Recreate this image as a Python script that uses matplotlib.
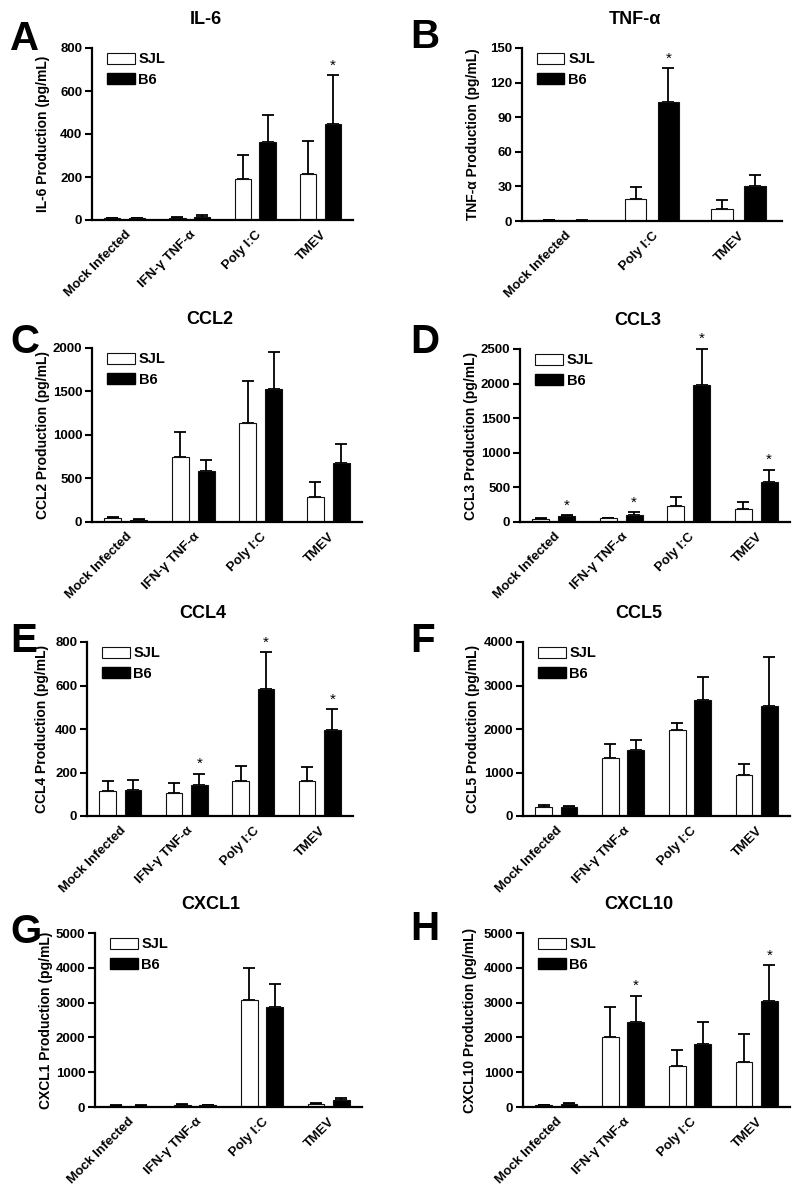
import numpy as np
import matplotlib
matplotlib.use("Agg")
import matplotlib.pyplot as plt
from matplotlib.patches import Patch

plt.rcParams['font.family'] = ['Liberation Sans', 'DejaVu Sans']
plt.rcParams['font.weight'] = 'bold'

groups4 = ['Mock Infected', 'IFN-γ TNF-α', 'Poly I:C', 'TMEV']
groups3 = ['Mock Infected', 'Poly I:C', 'TMEV']

# IL-6
il6_sjl = [8, 10, 192, 215]
il6_sjl_err = [3, 4, 112, 152]
il6_b6 = [8, 15, 361, 445]
il6_b6_err = [3, 6, 129, 229]
il6_star = [False, False, False, True]

# TNF-a
tnf_sjl = [0.8, 18.8, 10]
tnf_sjl_err = [0.3, 10.4, 8]
tnf_b6 = [0.3, 103, 30.4]
tnf_b6_err = [0.2, 29.6, 9.6]
tnf_star = [False, True, False]

# CCL2
ccl2_sjl = [46, 750, 1142, 292]
ccl2_sjl_err = [12, 285, 473, 170]
ccl2_b6 = [25, 585, 1527, 677]
ccl2_b6_err = [10, 123, 423, 219]
ccl2_star = [False, False, False, False]

# CCL3
ccl3_sjl = [48, 53, 235, 192]
ccl3_sjl_err = [14, 9, 125, 101]
ccl3_b6 = [91, 106, 1976, 582]
ccl3_b6_err = [9, 34, 524, 173]
ccl3_star = [True, True, True, True]

# CCL4
ccl4_sjl = [114, 104, 160, 161]
ccl4_sjl_err = [49, 48, 70, 66]
ccl4_b6 = [120, 143, 584, 396]
ccl4_b6_err = [44, 52, 169, 94]
ccl4_star = [False, True, True, True]

# CCL5
ccl5_sjl = [200, 1328, 1981, 944]
ccl5_sjl_err = [61, 323, 153, 261]
ccl5_b6 = [200, 1512, 2672, 2526]
ccl5_b6_err = [38, 246, 530, 1136]
ccl5_star = [False, False, False, False]

# CXCL1
cxcl1_sjl = [40, 70, 3077, 87]
cxcl1_sjl_err = [20, 30, 913, 38]
cxcl1_b6 = [40, 50, 2865, 192]
cxcl1_b6_err = [15, 20, 683, 78]
cxcl1_star = [False, False, False, False]

# CXCL10
cxcl10_sjl = [50, 2010, 1183, 1298]
cxcl10_sjl_err = [10, 875, 452, 789]
cxcl10_b6 = [90, 2442, 1808, 3038]
cxcl10_b6_err = [20, 750, 644, 1039]
cxcl10_star = [False, True, False, True]

W, H = 800, 1189
fig = plt.figure(figsize=(W / 100, H / 100), dpi=100)


def panel(letter, title, ylabel, groups, sjl, sjl_err, b6, b6_err, stars,
          yticks, box, letter_xy, label_x):
    l, t, r, b = box
    ax = fig.add_axes([l / W, 1 - b / H, (r - l) / W, (b - t) / H])
    x = np.arange(len(groups))
    bw = 0.25
    off = 0.19
    for vals, errs, fc, dx in [(sjl, sjl_err, 'white', -off), (b6, b6_err, 'black', off)]:
        ax.bar(x + dx, vals, bw, color=fc, edgecolor='#111111', linewidth=0.8, zorder=2)
        ax.errorbar(x + dx, vals, yerr=[np.zeros(len(vals)), errs], fmt='none',
                    ecolor='black', elinewidth=1.3, capsize=4, capthick=1.3,
                    zorder=1, clip_on=False)
    for i, s in enumerate(stars):
        if s:
            ax.annotate('*', (x[i] + off, b6[i] + b6_err[i]), xytext=(0, 2),
                        textcoords='offset points', ha='center', va='bottom',
                        fontsize=11, fontweight='normal', annotation_clip=False)
    ax.set_xlim(-0.5, len(groups) - 0.5)
    ax.set_ylim(0, yticks[-1])
    ax.set_yticks(yticks)
    ax.set_xticks(x)
    ax.set_xticklabels(groups, rotation=45, ha='right', rotation_mode='anchor',
                       fontsize=9.5, fontweight='bold')
    ax.tick_params(axis='x', length=0, pad=6)
    ax.tick_params(axis='y', length=5, width=1.5, labelsize=9.5, pad=2)
    for lab in ax.get_yticklabels():
        lab.set_fontweight('bold')
    for sp in ['top', 'right']:
        ax.spines[sp].set_visible(False)
    for sp in ['left', 'bottom']:
        ax.spines[sp].set_linewidth(1.6)
    ax.set_ylabel(ylabel, fontsize=10, fontweight='bold')
    ax.yaxis.set_label_coords((label_x - l) / (r - l), 0.5)
    ax.text(0.435, 1.0 + 20 / (b - t), title, transform=ax.transAxes, ha='center',
            va='bottom', fontsize=13, fontweight='bold')
    handles = [Patch(facecolor='white', edgecolor='#111111', linewidth=0.8, label='SJL'),
               Patch(facecolor='black', edgecolor='black', label='B6')]
    ax.legend(handles=handles, loc='upper left', bbox_to_anchor=(0.04, 1.0),
              frameon=False, handlelength=1.9, handleheight=0.8,
              handletextpad=0.25, labelspacing=0.45, borderaxespad=0, borderpad=0.3,
              prop={'weight': 'bold', 'size': 10.5})
    fig.text(letter_xy[0] / W, 1 - letter_xy[1] / H, letter, fontsize=29,
             fontweight='bold', ha='left', va='baseline')
    return ax


panel('A', 'IL-6', 'IL-6 Production (pg/mL)', groups4, il6_sjl, il6_sjl_err,
      il6_b6, il6_b6_err, il6_star, [0, 200, 400, 600, 800], (92, 48, 353, 220), (10, 50), 50)
panel('B', 'TNF-α', 'TNF-α Production (pg/mL)', groups3, tnf_sjl, tnf_sjl_err,
      tnf_b6, tnf_b6_err, tnf_star, [0, 30, 60, 90, 120, 150], (522, 48, 782, 221), (410, 48), 480)
panel('C', 'CCL2', 'CCL2 Production (pg/mL)', groups4, ccl2_sjl, ccl2_sjl_err,
      ccl2_b6, ccl2_b6_err, ccl2_star, [0, 500, 1000, 1500, 2000], (92, 348, 362, 522), (10, 353), 50)
panel('D', 'CCL3', 'CCL3 Production (pg/mL)', groups4, ccl3_sjl, ccl3_sjl_err,
      ccl3_b6, ccl3_b6_err, ccl3_star, [0, 500, 1000, 1500, 2000, 2500], (520, 349, 790, 522), (410, 353), 478)
panel('E', 'CCL4', 'CCL4 Production (pg/mL)', groups4, ccl4_sjl, ccl4_sjl_err,
      ccl4_b6, ccl4_b6_err, ccl4_star, [0, 200, 400, 600, 800], (87, 642, 353, 816), (10, 652), 49)
panel('F', 'CCL5', 'CCL5 Production (pg/mL)', groups4, ccl5_sjl, ccl5_sjl_err,
      ccl5_b6, ccl5_b6_err, ccl5_star, [0, 1000, 2000, 3000, 4000], (523, 642, 790, 816), (410, 652), 480)
panel('G', 'CXCL1', 'CXCL1 Production (pg/mL)', groups4, cxcl1_sjl, cxcl1_sjl_err,
      cxcl1_b6, cxcl1_b6_err, cxcl1_star, [0, 1000, 2000, 3000, 4000, 5000], (95, 933, 362, 1107), (10, 943), 53)
panel('H', 'CXCL10', 'CXCL10 Production (pg/mL)', groups4, cxcl10_sjl, cxcl10_sjl_err,
      cxcl10_b6, cxcl10_b6_err, cxcl10_star, [0, 1000, 2000, 3000, 4000, 5000], (523, 933, 790, 1107), (410, 940), 477)

fig.savefig('out.png', dpi=100, facecolor='white')
